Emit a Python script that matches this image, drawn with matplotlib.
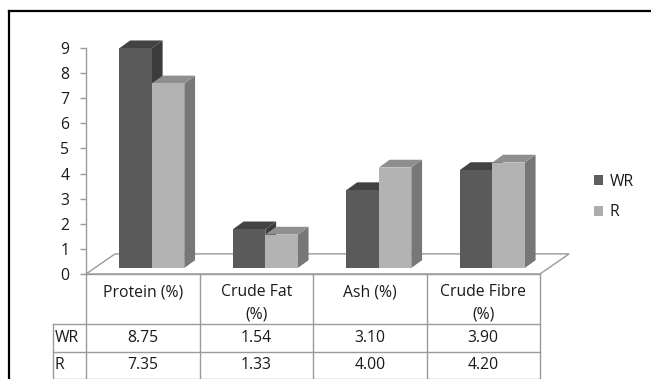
import matplotlib
matplotlib.use("Agg")
import matplotlib.pyplot as plt
from matplotlib.patches import Polygon, Patch
from matplotlib.lines import Line2D

# ---- data ----
categories = ["Protein (%)", "Crude Fat\n(%)", "Ash (%)", "Crude Fibre\n(%)"]
series_names = ["WR", "R"]
wr_values = [8.75, 1.54, 3.10, 3.90]
r_values = [7.35, 1.33, 4.00, 4.20]
y_ticks = [0, 1, 2, 3, 4, 5, 6, 7, 8, 9]

# ---- style ----
FONT = "Open Sans"
FS = 11.3
TEXT = "#1a1a1a"
GRID = "#9a9a9a"
faces = {
    "WR": dict(front="#5a5a5a", top="#424242", side="#3c3c3c", legend="#5e5e5e"),
    "R": dict(front="#b3b3b3", top="#8f8f8f", side="#777777", legend="#adadad"),
}

plt.rcParams["font.family"] = [FONT, "DejaVu Sans"]

W, H = 651, 379
fig = plt.figure(figsize=(W / 100, H / 100), dpi=100)
fig.patch.set_facecolor("white")

# plotting area: x spans the four category columns, y the value range
ax = fig.add_axes([86 / W, (H - 274) / H, 454 / W, 226 / H])
ax.set_xlim(-0.5, 3.5)
ax.set_ylim(0, 9)
ax.set_facecolor("none")
for s in ("top", "right", "bottom"):
    ax.spines[s].set_visible(False)
ax.spines["left"].set_color(GRID)
ax.spines["left"].set_linewidth(1.0)
ax.set_xticks([])
ax.set_yticks(y_ticks)
ax.tick_params(axis="y", direction="out", length=4, width=1.0, color=GRID,
               pad=8, labelsize=FS, labelcolor=TEXT)

# depth offsets of the pseudo-3D projection (data units)
floor_dx, floor_dy = 0.2555, 0.80
bar_dx, bar_dy = 0.095, 0.31
bar_base = 0.24
bar_w = 0.286
pair_left = -0.206

# floor
floor = Polygon([(-0.5, 0), (3.5, 0), (3.5 + floor_dx, floor_dy), (-0.5 + floor_dx, floor_dy)],
                closed=True, facecolor="white", edgecolor=GRID, lw=1.0, clip_on=False, zorder=1)
ax.add_patch(floor)


def draw_bar(x0, h, c):
    y0 = bar_base
    y1 = bar_base + h
    x1 = x0 + bar_w
    front = Polygon([(x0, y0), (x1, y0), (x1, y1), (x0, y1)], closed=True,
                    facecolor=c["front"], edgecolor="none", clip_on=False, zorder=3)
    top = Polygon([(x0, y1), (x1, y1), (x1 + bar_dx, y1 + bar_dy), (x0 + bar_dx, y1 + bar_dy)],
                  closed=True, facecolor=c["top"], edgecolor="none", clip_on=False, zorder=3)
    side = Polygon([(x1, y0), (x1 + bar_dx, y0 + bar_dy), (x1 + bar_dx, y1 + bar_dy), (x1, y1)],
                   closed=True, facecolor=c["side"], edgecolor="none", clip_on=False, zorder=3)
    for p in (side, top, front):
        ax.add_patch(p)


for i in range(len(categories)):
    for j, (name, vals) in enumerate(zip(series_names, [wr_values, r_values])):
        draw_bar(i + pair_left + j * bar_w, vals[i], faces[name])

# ---- data table below the plot ----
px_y = 226 / 9.0        # pixels per value unit
row_label_x = -0.5 - 33 / 113.5
header_bottom = -50 / px_y
row1_bottom = header_bottom - 28 / px_y
row2_bottom = row1_bottom - 26.5 / px_y

tkw = dict(color=GRID, lw=1.0, clip_on=False, zorder=2)
ax.plot([-0.5, 3.5], [0, 0], **tkw)
for yb in (header_bottom, row1_bottom, row2_bottom):
    ax.plot([row_label_x, 3.5], [yb, yb], **tkw)
ax.plot([row_label_x, row_label_x], [header_bottom, row2_bottom], **tkw)
for k in range(len(categories) + 1):
    ax.plot([k - 0.5, k - 0.5], [0, row2_bottom], **tkw)

for i, cat in enumerate(categories):
    ax.text(i, -10.5 / px_y, cat, ha="center", va="top", fontsize=FS, color=TEXT,
            linespacing=1.5, clip_on=False)
for vals, yb_top, yb_bot, name in [(wr_values, header_bottom, row1_bottom, "WR"),
                                   (r_values, row1_bottom, row2_bottom, "R")]:
    yc = (yb_top + yb_bot) / 2
    ax.text(row_label_x + 2 / 113.5, yc, name, ha="left", va="center", fontsize=FS,
            color=TEXT, clip_on=False)
    for i, v in enumerate(vals):
        ax.text(i, yc, f"{v:.2f}", ha="center", va="center", fontsize=FS,
                color=TEXT, clip_on=False)

# ---- legend ----
handles = [Patch(facecolor=faces[n]["legend"], edgecolor="none", label=n) for n in series_names]
ax.legend(handles=handles, loc="center left", bbox_to_anchor=(594 / W, 1 - 197 / H),
          bbox_transform=fig.transFigure, frameon=False, fontsize=FS,
          handlelength=0.6, handleheight=0.6, handletextpad=0.4, labelspacing=0.95,
          borderpad=0, borderaxespad=0, labelcolor=TEXT)

# ---- outer frame (top and left edges) ----
fig.add_artist(Line2D([9 / W, 1.0], [1 - 11 / H, 1 - 11 / H], transform=fig.transFigure,
                      color="black", lw=1.6))
fig.add_artist(Line2D([9 / W, 9 / W], [1 - 11 / H, 0.0], transform=fig.transFigure,
                      color="black", lw=1.6))

fig.savefig("out.png", dpi=100, facecolor="white")
